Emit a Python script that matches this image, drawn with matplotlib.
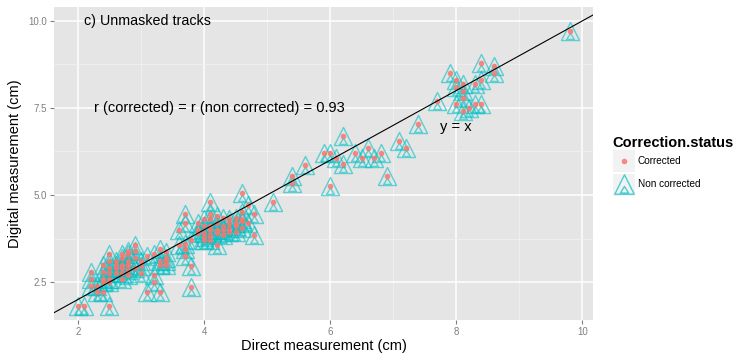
import matplotlib
matplotlib.use("Agg")
import matplotlib.pyplot as plt
from matplotlib.patches import Rectangle
from matplotlib.path import Path

# direct vs digital track length (cm)
direct = [
    2.0, 2.1, 2.5,
    2.2, 2.2, 2.2, 2.3, 2.3, 2.4,
    2.4, 2.4, 2.4, 2.4,
    2.5, 2.5, 2.5, 2.5, 2.5, 2.5,
    2.6, 2.6, 2.6, 2.6,
    2.7, 2.7, 2.7, 2.7, 2.7, 2.7,
    2.8, 2.8, 2.8, 2.8, 2.8, 2.8,
    2.9, 2.9, 2.9, 2.9,
    3.0, 3.0, 3.0,
    3.1, 3.1,
    3.2, 3.2, 3.2,
    3.3, 3.3, 3.3, 3.3,
    3.4, 3.4, 3.4, 3.4,
    3.6, 3.7, 3.7, 3.9, 4.0, 4.1, 4.1, 4.1, 4.2, 4.3, 4.4, 4.5,
    4.6, 4.7, 4.8, 4.7, 4.8, 4.6,
    3.6, 3.7, 3.7, 3.7, 3.8, 3.8, 3.8, 4.2,
    4.0, 4.0, 4.0, 4.1, 4.1, 4.1, 4.1, 4.2, 4.2, 4.2, 4.3, 4.3, 4.3,
    4.4, 4.4, 4.4, 4.5, 4.5, 4.5, 4.6, 4.6, 4.6, 3.9, 3.9, 4.0,
    5.1, 5.4, 5.4, 5.6, 5.9, 6.0, 6.0, 6.1, 6.2, 6.2, 6.4, 6.5, 6.6,
    6.7, 6.8, 6.9, 7.1, 7.2, 7.4, 7.7, 7.9, 8.0, 8.0, 8.0, 8.1, 8.1,
    8.1, 8.1, 8.2, 8.3, 8.3, 8.4, 8.4, 8.4, 8.6, 8.6, 9.8,
]
digital = [
    1.8, 1.8, 1.8,
    2.8, 2.6, 2.4, 2.4, 2.2, 2.2,
    2.6, 2.8, 3.0, 2.5,
    3.3, 3.1, 2.9, 2.75, 2.6, 2.5,
    3.1, 2.9, 2.75, 3.0,
    3.3, 3.2, 3.0, 2.9, 2.75, 2.6,
    3.4, 3.3, 3.1, 3.0, 2.85, 2.7,
    3.55, 3.4, 3.2, 2.9,
    2.95, 2.75, 3.1,
    3.25, 2.2,
    3.3, 2.7, 2.5,
    3.45, 3.1, 3.0, 2.2,
    3.35, 3.2, 3.1, 3.0,
    4.0, 4.45, 4.2, 4.2, 4.3, 4.8, 4.45, 4.3, 4.4, 4.35, 4.3, 4.35,
    4.5, 4.7, 4.45, 4.2, 3.85, 5.05,
    3.55, 3.6, 3.45, 3.25, 3.7, 2.95, 2.35, 3.55,
    4.1, 3.9, 3.8, 4.1, 4.0, 3.85, 3.7, 4.2, 4.0, 3.9, 4.1, 4.0, 3.85,
    4.2, 4.05, 3.95, 4.2, 4.1, 3.95, 4.25, 4.05, 4.3, 3.9, 4.0, 3.7,
    4.8, 5.55, 5.35, 5.85, 6.2, 6.2, 5.25, 6.05, 5.9, 6.7, 6.2, 6.05, 6.35,
    6.05, 6.2, 5.55, 6.55, 6.35, 7.05, 7.7, 8.5, 8.3, 8.1, 7.6, 8.2, 8.0,
    7.8, 7.4, 7.5, 8.2, 7.6, 8.8, 8.3, 7.6, 8.7, 8.5, 9.7,
]

xticks = [2, 4, 6, 8, 10]
yticks = [2.5, 5.0, 7.5, 10.0]
ytick_labels = ["2.5", "5.0", "7.5", "10.0"]

RED = "#F8766D"
CYAN = "#00BFC4"
GREY_TXT = "#7F7F7F"

plt.rcParams['font.family'] = ['Liberation Sans', 'DejaVu Sans']

# open triangle with a small triangle sitting near its base
tri = Path(
    [(0, 1), (-1, -1), (1, -1), (0, 1),
     (0, -0.2), (-0.42, -0.88), (0.42, -0.88), (0, -0.2)],
    [Path.MOVETO, Path.LINETO, Path.LINETO, Path.CLOSEPOLY,
     Path.MOVETO, Path.LINETO, Path.LINETO, Path.CLOSEPOLY],
)

W, H = 734, 358
fig = plt.figure(figsize=(W / 100, H / 100), dpi=100)
ax = fig.add_axes([54 / W, 1 - 320 / H, (593 - 54) / W, (320 - 7) / H])
ax.set_facecolor("#E5E5E5")
ax.set_xlim(1.62, 10.17)
ax.set_ylim(1.41, 10.40)

ax.set_xticks(xticks)
ax.set_xticks([3, 5, 7, 9], minor=True)
ax.set_yticks(yticks)
ax.set_yticklabels(ytick_labels)
ax.set_yticks([3.75, 6.25, 8.75], minor=True)
ax.set_axisbelow(True)
ax.grid(which="major", color="white", lw=1.1)
ax.grid(which="minor", color="#F2F2F2", lw=0.5)
for s in ax.spines.values():
    s.set_visible(False)
ax.tick_params(which="major", length=3, width=0.8, color=GREY_TXT,
               labelsize=7, labelcolor=GREY_TXT, pad=2)
ax.tick_params(which="minor", length=0)

# non corrected
ax.plot(direct, digital, ls="none", marker=tri, ms=13, mfc="none",
        mec=CYAN, mew=1.0, alpha=0.6, zorder=2)
# corrected
ax.plot(direct, digital, ls="none", marker="o", ms=4.0, mfc=RED,
        mec="none", alpha=0.85, zorder=3)

ax.axline((0, 0), slope=1, color="black", lw=0.8, zorder=4)

ax.text(3.1, 10.0, "c) Unmasked tracks", fontsize=10.3, ha="center", va="center")
ax.text(4.25, 7.5, "r (corrected) = r (non corrected) = 0.93", fontsize=10.5,
        ha="center", va="center")
ax.text(8.0, 6.95, "y = x", fontsize=10.5, ha="center", va="center")

ax.set_xlabel("Direct measurement (cm)", fontsize=10.5, va="center")
ax.xaxis.set_label_coords(0.5, (320 - 346) / 313)
ax.set_ylabel("Digital measurement (cm)", fontsize=10.5, va="center")
ax.yaxis.set_label_coords((15 - 54) / 539, 0.5)

# legend drawn in pixel coordinates
lg = fig.add_axes([605 / W, 1 - 200 / H, 129 / W, 70 / H])
lg.set_xlim(605, 734)
lg.set_ylim(200, 130)
lg.axis("off")
for yc in (160.5, 184):
    lg.add_patch(Rectangle((612, yc - 11.5), 23, 23, fc="#F2F2F2", ec="white", lw=0.8))
lg.plot([623.5], [160.5], ls="none", marker="o", ms=4.0, mfc=RED, mec="none", alpha=0.85)
lg.plot([623.5], [184], ls="none", marker=tri, ms=14, mfc="none", mec=CYAN,
        mew=1.0, alpha=0.7)
lg.text(638, 160.5, "Corrected", fontsize=7.2, va="center")
lg.text(638, 184, "Non corrected", fontsize=7.2, va="center")

fig.text(612 / W, 1 - 143 / H, "Correction.status", fontsize=10.5,
         fontweight="bold", va="center")

fig.savefig("out.png", dpi=100)
